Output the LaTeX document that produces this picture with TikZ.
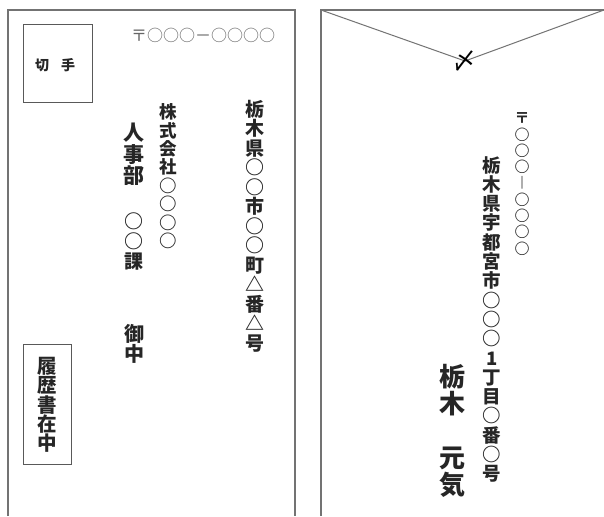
\documentclass[tikz,border=0pt]{standalone}
\usepackage{fontspec}
\newfontfamily\jp{Noto Sans CJK JP}
\tikzset{
  env/.style={draw=black!55, line width=1.3pt},
  box/.style={draw=black!65, line width=1pt},
  ch/.style={inner sep=0pt, text=black!85},
}
% #1 name prefix, #2 x, #3 y of first centre, #4 pitch, #5 size, #6 list
\newcommand\vcol[6]{%
  \foreach \cc [count=\i from 0] in {#6}
    \node[ch, font=\jp\bfseries\fontsize{#5}{#5}\selectfont, anchor=base]
      (#1\i) at (#2, {#3+\i*#4+0.38*#5}) {\cc};%
}
\begin{document}
\begin{tikzpicture}[x=1pt,y=-1pt]
\useasboundingbox[fill=white] (0,0) rectangle (604,516);

% ---------- left envelope (front) ----------
\draw[env] (8,516) -- (8,10) -- (295,10) -- (295,516);
\draw[box] (23,25) rectangle (92,103);
\node[ch, font=\jp\bfseries\fontsize{14}{14}\selectfont] (kit) at (42,65) {切};
\node[ch, font=\jp\bfseries\fontsize{14}{14}\selectfont] (te) at (68,65) {手};
\node[ch, font=\jp\fontsize{16}{16}\selectfont, text=black!60] (zip) at (203,35) {〒○○○－○○○○};

\vcol{ad}{255}{109}{19.5}{19}{栃,木,県,○,○,市,○,○,町,△,番,△,号}
\vcol{co}{168}{112}{18.4}{17.5}{株,式,会,社,○,○,○,○}
\vcol{jb}{134}{133}{21.5}{21}{人,事,部}
\vcol{ka}{134}{221}{20}{19}{○,○,課}
\vcol{on}{134}{334}{20}{20}{御,中}

\draw[box] (23,344) rectangle (71,464);
\vcol{rr}{47}{366}{19.3}{19.5}{履,歴,書,在,中}

% ---------- right envelope (back) ----------
\coordinate (tl) at (321,10);
\coordinate (tr) at (604,10);
\coordinate (v) at (465,61);
\draw[env] (321,516) -- (tl) -- (tr);
\draw[env, line width=1pt] (tl) -- (v) -- (tr);
\node[ch, font=\jp\fontsize{24}{24}\selectfont, text=black] (shime) at (464,61) {〆};

\vcol{rz}{522}{118}{16.3}{15}{〒,○,○,○,︱,○,○,○,○}
\vcol{ra}{492}{165}{19.3}{18.5}{栃,木,県,宇,都,宮,市,○,○,○,1,丁,目,○,番,○,号}
\vcol{nm}{452}{377}{27}{26}{栃,木,{},元,気}
\end{tikzpicture}
\end{document}
